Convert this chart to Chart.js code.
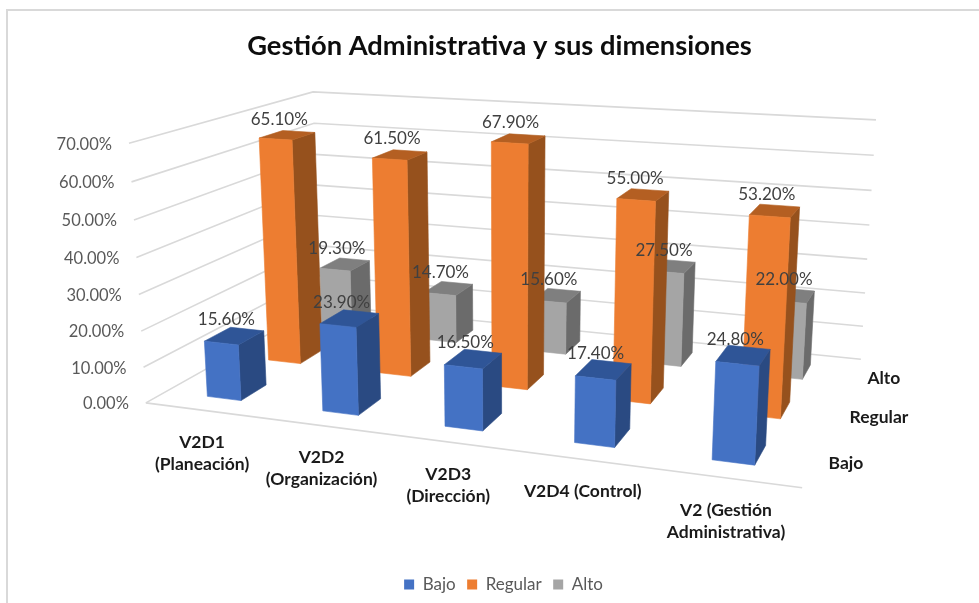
<!DOCTYPE html>
<html>
<head>
<meta charset="utf-8">
<title>Gestión Administrativa y sus dimensiones</title>
<script src="https://cdn.jsdelivr.net/npm/chart.js@4"></script>
<style>
  html, body { margin: 0; background: #fff; overflow: hidden; }
  #frame { position: absolute; left: 6px; top: 9px; width: 1000px; height: 700px; border: 2px solid #d9d9d9; }
  #chart { position: absolute; left: 0; top: 0; }
</style>
</head>
<body>
<div id="frame"></div>
<canvas id="chart" width="979" height="603"></canvas>
<script>
// data
const categories = [['V2D1', '(Planeación)'], ['V2D2', '(Organización)'], ['V2D3', '(Dirección)'], ['V2D4 (Control)'], ['V2 (Gestión', 'Administrativa)']];
const seriesNames = ['Bajo', 'Regular', 'Alto'];
const bajo = [15.6, 23.9, 16.5, 17.4, 24.8];
const regular = [65.1, 61.5, 67.9, 55.0, 53.2];
const alto = [19.3, 14.7, 15.6, 27.5, 22.0];

// face colours per series: front, side, top
const faces = [
  ['#4472c4', '#2a4a82', '#2f5597'],
  ['#ed7d31', '#96511d', '#b45f22'],
  ['#a5a5a5', '#6b6b6b', '#7f7f7f']
];
const gridColor = '#d9d9d9';
const FONT = 'Lato, sans-serif';

// corners of the 3D plot box on screen: [across, depth, height, screenX, screenY]
const boxCorners = [
  [0, 0, 0, 146, 403], [0, 0, 1, 129, 143],
  [0, 1, 0, 320, 305], [0, 1, 1, 313, 92],
  [1, 1, 0, 861, 359], [1, 1, 1, 876, 120],
  [1, 0, 0, 802, 488]
];
const DEPTH_FILL = 0.135; // bar depth as a share of the whole floor depth
const BAR_DRIFT = 0.0075; // bars sit slightly off their slot centre, more at the ends

// least squares fit of the camera matrix from the corners
function fitCamera(points) {
  const rows = [];
  points.forEach(([u, w, v, px, py]) => {
    const x = px / 1000, y = py / 1000;
    rows.push([u, w, v, 1, 0, 0, 0, 0, -x * u, -x * w, -x * v, x]);
    rows.push([0, 0, 0, 0, u, w, v, 1, -y * u, -y * w, -y * v, y]);
  });
  const n = 11;
  const m = [];
  for (let i = 0; i < n; i++) {
    m.push([]);
    for (let j = 0; j <= n; j++) {
      m[i].push(rows.reduce((s, r) => s + r[i] * r[j], 0));
    }
  }
  for (let i = 0; i < n; i++) {
    let best = i;
    for (let r = i + 1; r < n; r++) if (Math.abs(m[r][i]) > Math.abs(m[best][i])) best = r;
    [m[i], m[best]] = [m[best], m[i]];
    for (let r = 0; r < n; r++) {
      if (r === i) continue;
      const f = m[r][i] / m[i][i];
      for (let c = i; c <= n; c++) m[r][c] -= f * m[i][c];
    }
  }
  return m.map((r, i) => r[n] / r[i]);
}
const cam = fitCamera(boxCorners);

function project(u, w, v) {
  const d = cam[8] * u + cam[9] * w + cam[10] * v + 1;
  return [
    1000 * (cam[0] * u + cam[1] * w + cam[2] * v + cam[3]) / d,
    1000 * (cam[4] * u + cam[5] * w + cam[6] * v + cam[7]) / d
  ];
}

function poly(ctx, pts, color) {
  ctx.beginPath();
  pts.forEach((p, i) => {
    const s = project(p[0], p[1], p[2]);
    if (i === 0) ctx.moveTo(s[0], s[1]); else ctx.lineTo(s[0], s[1]);
  });
  ctx.closePath();
  ctx.fillStyle = color;
  ctx.strokeStyle = color;
  ctx.lineWidth = 0.6;
  ctx.fill();
  ctx.stroke();
}

function path(ctx, pts) {
  ctx.beginPath();
  pts.forEach((p, i) => {
    const s = project(p[0], p[1], p[2]);
    if (i === 0) ctx.moveTo(s[0], s[1]); else ctx.lineTo(s[0], s[1]);
  });
  ctx.stroke();
}

// bars, walls and axis texts are all placed in the 3D box from the chart scales
const box3d = {
  id: 'box3d',
  afterLayout(chart) {
    // legend sits a bit right of the title
    chart.legend.left += 4;
    chart.legend.right += 4;
  },
  beforeDatasetsDraw(chart) {
    const ctx = chart.ctx;
    const { x: xs, y: ys, depth: zs } = chart.scales;
    const level = val => (ys.bottom - ys.getPixelForValue(val)) / ys.height;
    ctx.save();

    // walls
    ctx.strokeStyle = gridColor;
    ctx.lineWidth = 1.6;
    ys.ticks.forEach(t => {
      const v = level(t.value);
      path(ctx, [[0, 0, v], [0, 1, v], [1, 1, v]]);
    });
    path(ctx, [[0, 0, 0], [1, 0, 0]]);

    // bars, back row first
    const tags = [];
    for (let k = 2; k >= 0; k--) {
      const zc = (zs.getPixelForValue(k) - zs.left) / zs.width;
      const w0 = zc - DEPTH_FILL / 2, w1 = zc + DEPTH_FILL / 2;
      chart.getDatasetMeta(k).data.forEach((el, i) => {
        const uc = (el.x - xs.left) / xs.width;
        const half = el.width / 2 / xs.width;
        const drift = BAR_DRIFT * (0.4 - uc);
        const u0 = uc - half + drift, u1 = uc + half + drift;
        const val = chart.data.datasets[k].data[i];
        const v = level(val);
        poly(ctx, [[u1, w0, 0], [u1, w1, 0], [u1, w1, v], [u1, w0, v]], faces[k][1]);
        poly(ctx, [[u0, w0, v], [u1, w0, v], [u1, w1, v], [u0, w1, v]], faces[k][2]);
        poly(ctx, [[u0, w0, 0], [u1, w0, 0], [u1, w0, v], [u0, w0, v]], faces[k][0]);
        const top = project((u0 + u1) / 2, zc, v);
        tags.push([val.toFixed(2) + '%', top[0] - 8, top[1] - 16]);
      });
    }

    // value labels
    ctx.font = '17px ' + FONT;
    ctx.fillStyle = '#404040';
    ctx.textAlign = 'center';
    ctx.textBaseline = 'middle';
    tags.forEach(t => ctx.fillText(t[0], t[1], t[2]));

    // value axis labels
    ctx.font = '16.5px ' + FONT;
    ctx.fillStyle = '#595959';
    ctx.textAlign = 'right';
    ys.ticks.forEach(t => {
      const s = project(0, 0, level(t.value));
      ctx.fillText(t.value.toFixed(2) + '%', s[0] - 17, s[1] + 1);
    });

    // category labels
    ctx.font = 'bold 17.5px ' + FONT;
    ctx.fillStyle = '#1a1a1a';
    ctx.textAlign = 'center';
    categories.forEach((lines, i) => {
      const u = (xs.getPixelForValue(i) - xs.left) / xs.width;
      const s = project(u, 0, 0);
      lines.forEach((txt, j) => ctx.fillText(txt, s[0] - 1, s[1] + 32 + j * 22));
    });

    // depth labels
    ctx.textAlign = 'left';
    seriesNames.forEach((name, k) => {
      const w = (zs.getPixelForValue(k) - zs.left) / zs.width;
      const s = project(1, w, 0);
      ctx.fillText(name, s[0] + 14.5, s[1] + 1.5);
    });

    ctx.restore();
    return false; // the library's flat bars are replaced by the boxes above
  }
};

function makeSet(label, data, k) {
  return { label, data, backgroundColor: faces[k][0], borderWidth: 0, barPercentage: 0.295, categoryPercentage: 1, grouped: false };
}

new Chart(document.getElementById('chart'), {
  type: 'bar',
  data: {
    labels: categories,
    datasets: [makeSet('Bajo', bajo, 0), makeSet('Regular', regular, 1), makeSet('Alto', alto, 2)]
  },
  plugins: [box3d],
  options: {
    responsive: false,
    animation: false,
    layout: { padding: { left: 20, bottom: 0 } },
    plugins: {
      tooltip: { enabled: false },
      title: {
        display: true,
        text: 'Gestión Administrativa y sus dimensiones',
        color: '#0d0d0d',
        font: { family: FONT, size: 27.3, weight: 'bold' },
        padding: { top: 30, bottom: 20 }
      },
      legend: {
        position: 'bottom',
        onClick: null,
        labels: { boxWidth: 10, boxHeight: 10, font: { family: FONT, size: 17 }, color: '#595959', padding: 11.5 }
      }
    },
    scales: {
      x: { display: false, offset: true },
      y: { display: false, min: 0, max: 70, ticks: { stepSize: 10 } },
      depth: { type: 'category', axis: 'x', labels: seriesNames, offset: true, display: false }
    }
  }
});
</script>
</body>
</html>
